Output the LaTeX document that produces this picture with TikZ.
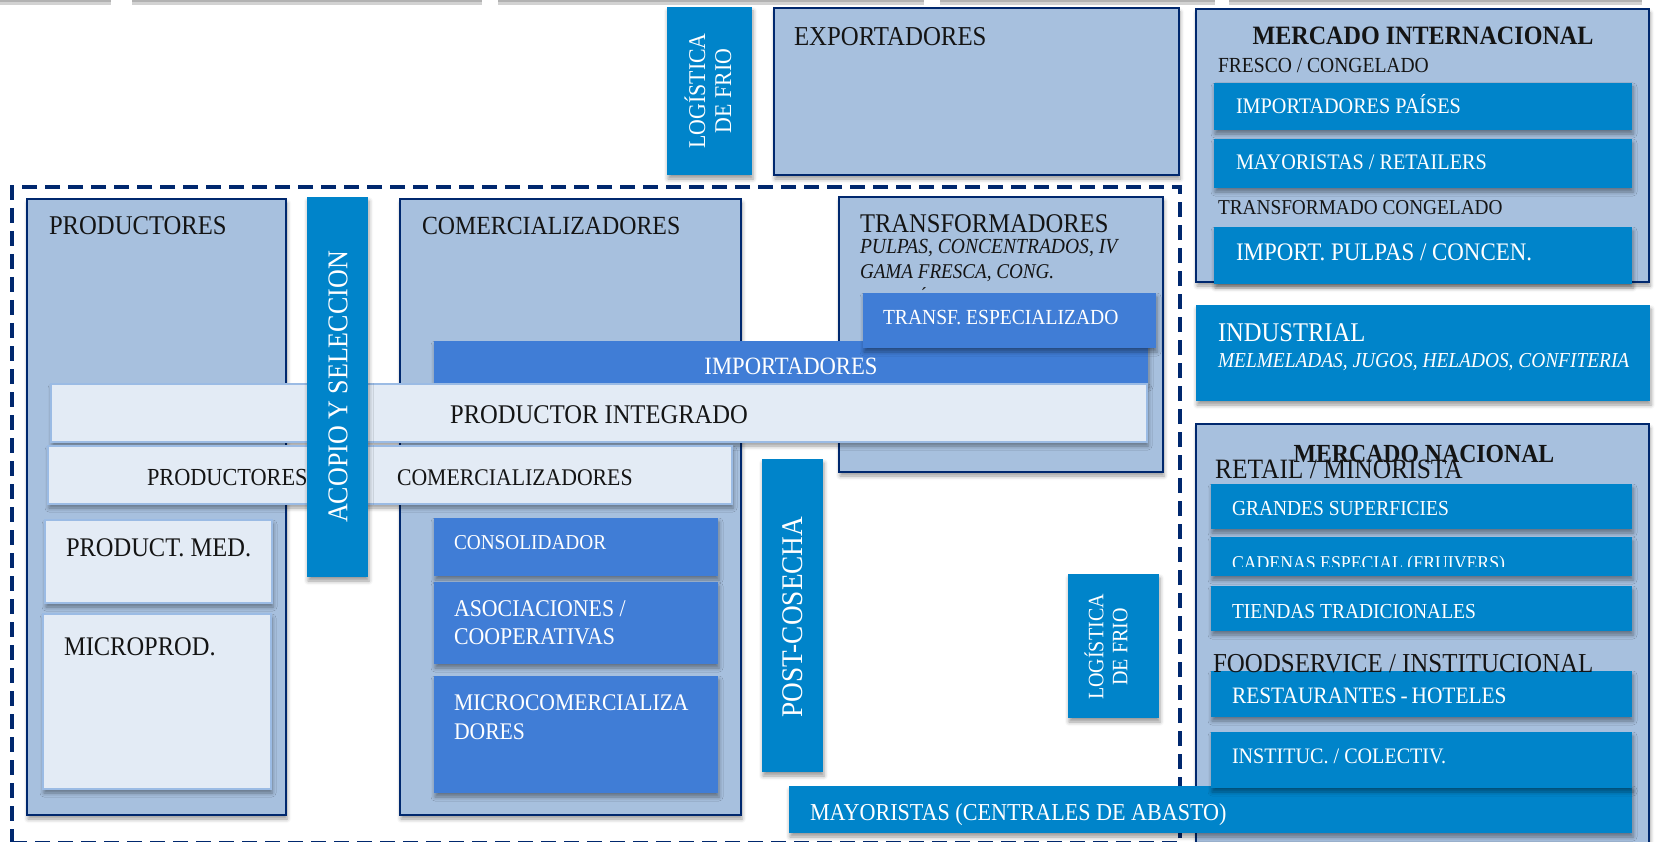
\documentclass[tikz,border=0pt]{standalone}
\usepackage{fontspec}
\setmainfont{Liberation Serif}[FakeStretch=0.91]
\usetikzlibrary{shadows.blur}
\definecolor{navy}{RGB}{0,40,110}
\definecolor{midblue}{RGB}{0,132,202}
\definecolor{royal}{RGB}{64,125,214}
\definecolor{steel}{RGB}{167,192,222}
\definecolor{pale}{RGB}{227,235,245}
\definecolor{paleedge}{RGB}{155,187,228}
\newcommand\fs[1]{\fontsize{#1}{#1}\selectfont}
\newcommand\bx[6]{\node[#1,anchor=north west,minimum width={#5-#3},minimum height={#6-#4}] (#2) at (#3,#4) {};}
\newcommand\tx[5]{\node[#1,anchor=base west] (#2) at (#3,#4) {#5};}
\tikzset{
  shad/.style={blur shadow={shadow xshift=1pt,shadow yshift=-4pt,shadow blur radius=4pt,shadow opacity=40}},
  bluebox/.style={draw=navy,line width=1.6pt,fill=steel,inner sep=0,outer sep=0,shad},
  midbox/.style={fill=midblue,inner sep=0,outer sep=0,shad},
  royalbox/.style={fill=royal,inner sep=0,outer sep=0,shad},
  palebox/.style={fill=pale,draw=paleedge,line width=1.5pt,inner sep=0,outer sep=0,shad},
  dashframe/.style={draw=navy,line width=4pt,dash pattern=on 15pt off 8pt,inner sep=0,outer sep=0},
  tt/.style={inner sep=0,outer sep=0,text=black!92},
  ww/.style={inner sep=0,outer sep=0,text=white},
}
\begin{document}
\begin{tikzpicture}[x=1pt,y=-1pt]
\useasboundingbox (0,0) rectangle (1661,842);
\clip (0,0) rectangle (1661,842);
% top strip
\foreach \a/\b in {0/111,132/482,498/924,940/1215,1229/1642}{
  \fill[gray!35] (\a,0) rectangle (\b,5);
  \fill[gray!60] (\a,0) rectangle (\b,2);
}
% upper row
\bx{midbox}{logtop}{667}{7}{752}{175}
\node[ww,rotate=90,font=\fontsize{24}{26}\selectfont,align=center] (tlogtop) at (708,91) {LOGÍSTICA\\DE FRIO};
\bx{bluebox}{export}{774}{8}{1179}{175}
\tx{tt,font=\fs{27.3}}{texport}{794}{46}{EXPORTADORES}
\bx{bluebox}{mint}{1196}{9}{1649}{282}
\node[tt,font=\fs{26.5}\bfseries,anchor=base] (tmint) at (1423,45) {MERCADO INTERNACIONAL};
\tx{tt,font=\fs{21.5}}{tfresco}{1218}{73}{FRESCO / CONGELADO}
\bx{midbox}{impp}{1214}{83}{1632}{130}
\tx{ww,font=\fs{22.2}}{timpp}{1236}{114}{IMPORTADORES PAÍSES}
\bx{midbox}{mayret}{1214}{139}{1632}{188}
\tx{ww,font=\fs{22.2}}{tmayret}{1236}{170}{MAYORISTAS / RETAILERS}
\tx{tt,font=\fs{21.2}}{ttrcong}{1218}{215}{TRANSFORMADO CONGELADO}
\bx{midbox}{imppulp}{1214}{227}{1632}{284}
\tx{ww,font=\fs{25.2}}{timppulp}{1236}{261}{IMPORT. PULPAS / CONCEN.}
\bx{midbox}{indus}{1196}{305}{1650}{401}
\tx{ww,font=\fs{27}}{tindus}{1218}{341}{INDUSTRIAL}
\tx{ww,font=\fs{21.3}\itshape}{tmelm}{1218}{367}{MELMELADAS, JUGOS, HELADOS, CONFITERIA}
% dashed frame
\bx{dashframe}{frame}{12}{187}{1180}{843}
% main boxes
\bx{bluebox}{prod}{27}{199}{286}{815}
\tx{tt,font=\fs{27.1}}{tprod}{49}{235}{PRODUCTORES}
\bx{bluebox}{comer}{400}{199}{741}{815}
\tx{tt,font=\fs{26.2}}{tcomer}{422}{235}{COMERCIALIZADORES}
\bx{bluebox}{transf}{839}{197}{1163}{472}
\tx{tt,font=\fs{27}}{ttransf}{860}{233}{TRANSFORMADORES}
\tx{tt,font=\fs{21.5}\itshape}{tpulpas}{860}{254}{PULPAS, CONCENTRADOS, IV}
\tx{tt,font=\fs{21}\itshape}{tgama}{860}{278}{GAMA FRESCA, CONG.}
\node[tt,font=\fs{20},anchor=base] (tacc) at (924,301) {´};
\bx{royalbox}{importad}{434}{341}{1148}{383}
\node[ww,font=\fs{24.9},anchor=base] (timportad) at (791,374) {IMPORTADORES};
\bx{royalbox}{transfesp}{863}{293}{1156}{348}
\tx{ww,font=\fs{21.5}}{ttransfesp}{883}{324}{TRANSF. ESPECIALIZADO}
\bx{palebox}{prodint}{51}{384}{1147}{442}
\node[tt,font=\fs{27},anchor=base] (tprodint) at (599,423) {PRODUCTOR INTEGRADO};
\bx{palebox}{prodcom}{48}{446}{732}{504}
\tx{tt,font=\fs{24.5}}{tprodcom1}{147}{485}{PRODUCTORES}
\tx{tt,font=\fs{23.9}}{tprodcom2}{397}{485}{COMERCIALIZADORES}
\bx{midbox}{acopio}{307}{197}{368}{577}
\node[ww,rotate=90,font=\fs{28.6}] (tacopio) at (338,387) {ACOPIO Y SELECCION};
% producers sub boxes
\bx{palebox}{pmed}{45}{520}{272}{603}
\tx{tt,font=\fs{26.9}}{tpmed}{66}{556}{PRODUCT. MED.}
\bx{palebox}{micro}{43}{614}{271}{789}
\tx{tt,font=\fs{26.9}}{tmicro}{64}{655}{MICROPROD.}
% comercializadores sub boxes
\bx{royalbox}{consol}{434}{518}{718}{576}
\tx{ww,font=\fs{21.2}}{tconsol}{454}{549}{CONSOLIDADOR}
\bx{royalbox}{asoc}{434}{582}{718}{664}
\tx{ww,font=\fs{24}}{tasoc1}{454}{616}{ASOCIACIONES /}
\tx{ww,font=\fs{24}}{tasoc2}{454}{644}{COOPERATIVAS}
\bx{royalbox}{microcom}{434}{676}{718}{793}
\tx{ww,font=\fs{23.8}}{tmicrocom1}{454}{710}{MICROCOMERCIALIZA}
\tx{ww,font=\fs{23.8}}{tmicrocom2}{454}{739}{DORES}
% vertical bars
\bx{midbox}{post}{762}{459}{823}{772}
\node[ww,rotate=90,font=\fs{30}] (tpost) at (793,617) {POST-COSECHA};
\bx{midbox}{logbot}{1068}{574}{1159}{718}
\node[ww,rotate=90,font=\fontsize{22}{24}\selectfont,align=center] (tlogbot) at (1106,647) {LOGÍSTICA\\DE FRIO};
% mercado nacional
\bx{bluebox}{mnac}{1196}{424}{1649}{870}
\bx{midbox}{grandes}{1211}{484}{1632}{529}
\tx{ww,font=\fs{21.4}}{tgrandes}{1232}{515}{GRANDES SUPERFICIES}
\bx{midbox}{cadenas}{1211}{537}{1632}{576}
\begin{scope}
\clip (1211,537) rectangle (1632,566);
\tx{ww,font=\fs{19.5}}{tcadenas}{1232}{569}{CADENAS ESPECIAL (FRUIVERS)}
\end{scope}
\bx{midbox}{tiendas}{1211}{586}{1632}{631}
\tx{ww,font=\fs{21.4}}{ttiendas}{1232}{618}{TIENDAS TRADICIONALES}
\bx{midbox}{rest}{1211}{671}{1632}{717}
\tx{ww,font=\fs{23.5}}{trest}{1232}{703}{RESTAURANTES\,-\,HOTELES}
\bx{midbox}{mayor}{789}{786}{1632}{833}
\tx{ww,font=\fs{24.3}}{tmayor}{810}{820}{MAYORISTAS (CENTRALES DE ABASTO)}
\bx{midbox}{instit}{1211}{732}{1632}{788}
\tx{ww,font=\fs{22.1}}{tinstit}{1232}{763}{INSTITUC. / COLECTIV.}
\tx{tt,font=\fs{28}}{tretail}{1215}{478}{RETAIL / MINORISTA}
\node[tt,font=\fs{26.1}\bfseries,anchor=base] (tmnac) at (1424,462) {MERCADO NACIONAL};
\tx{tt,font=\fs{27.4}}{tfood}{1213}{672}{FOODSERVICE / INSTITUCIONAL}
\end{tikzpicture}
\end{document}
